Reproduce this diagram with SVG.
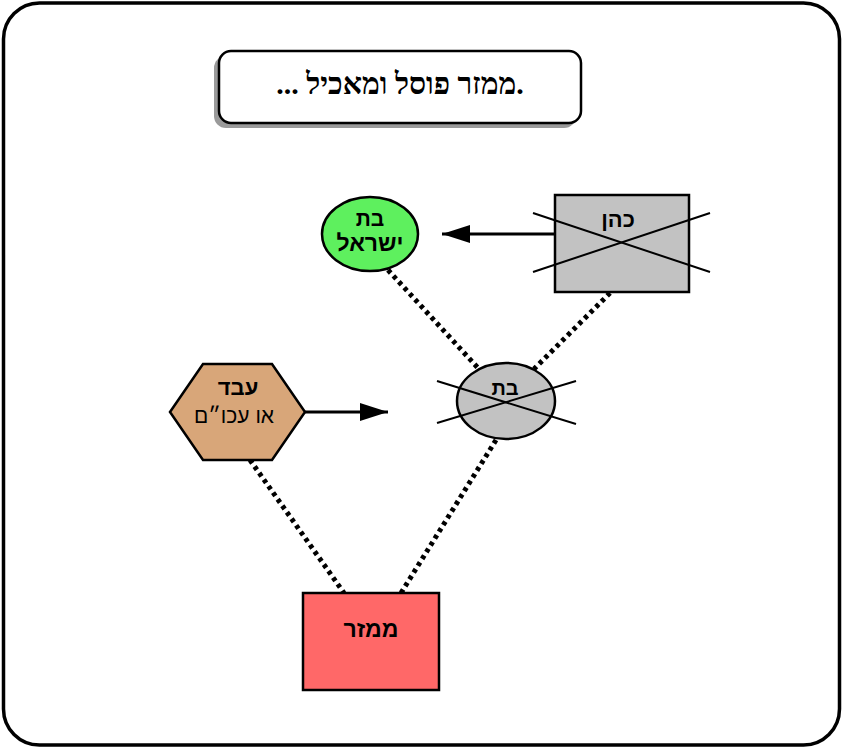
<svg xmlns="http://www.w3.org/2000/svg" width="843" height="749" viewBox="0 0 843 749">
<defs>
<marker id="arr" viewBox="0 0 28 18" refX="28" refY="9" markerWidth="28" markerHeight="18" markerUnits="userSpaceOnUse" orient="auto">
<path d="M0,0 L28,9 L0,18 z" fill="#000"/>
</marker>
</defs>
<style>
.lbl{font-family:"Liberation Sans","DejaVu Sans",sans-serif;font-weight:bold;text-anchor:middle;fill:#000;}
.node{stroke:#000;stroke-width:2.5;}
.dot{stroke:#000;stroke-width:5;stroke-dasharray:4 4;fill:none;}
.solid{stroke:#000;stroke-width:3;fill:none;}
.cross{stroke:#000;stroke-width:2;fill:none;}
</style>
<rect x="0" y="0" width="843" height="749" fill="#fff"/>
<rect x="3.5" y="3" width="836" height="742" rx="36" ry="36" fill="#fff" stroke="#000" stroke-width="3.5"/>

<g id="title">
<rect x="214" y="56" width="362" height="72" rx="12" ry="12" fill="#9a9a9a"/>
<rect x="219" y="51" width="362" height="72" rx="12" ry="12" fill="#fff" stroke="#000" stroke-width="2.5"/>
<text x="400" y="94" font-family="Liberation Serif, DejaVu Serif, serif" font-weight="bold" font-size="30" text-anchor="middle">... ממזר פוסל ומאכיל.</text>
</g>

<g id="connectors">
<line class="dot" x1="388" y1="270" x2="478" y2="368"/>
<line class="dot" x1="610" y1="293" x2="534" y2="369"/>
<line class="dot" x1="250" y1="460" x2="344" y2="593"/>
<line class="dot" x1="496" y1="440" x2="401" y2="593"/>
<line class="solid" x1="555" y1="234" x2="442" y2="234" marker-end="url(#arr)"/>
<line class="solid" x1="305" y1="412" x2="388" y2="412" marker-end="url(#arr)"/>
</g>

<g id="bat-israel">
<ellipse class="node" cx="370" cy="234" rx="48" ry="37" fill="#5ef05e"/>
<text class="lbl" x="370" y="226" font-size="21">בת</text>
<text class="lbl" x="370" y="251" font-size="23">ישראל</text>
</g>

<g id="kohen">
<rect class="node" x="555" y="195" width="134" height="97" fill="#c2c2c2"/>
<line class="cross" x1="533" y1="213" x2="710" y2="272"/>
<line class="cross" x1="533" y1="272" x2="710" y2="213"/>
<text class="lbl" x="618" y="227" font-size="22">כהן</text>
</g>

<g id="bat">
<ellipse class="node" cx="506" cy="401" rx="49" ry="38" fill="#c2c2c2"/>
<line class="cross" x1="437" y1="381" x2="576" y2="424"/>
<line class="cross" x1="437" y1="423" x2="576" y2="381"/>
<text class="lbl" x="505" y="395" font-size="20">בת</text>
</g>

<g id="eved">
<polygon class="node" points="170,412 203,364 272,364 305,412 272,460 203,460" fill="#d8a679"/>
<text class="lbl" x="238" y="395" font-size="22">עבד</text>
<text x="234" y="423" font-family="Liberation Sans, DejaVu Sans, sans-serif" font-size="21" text-anchor="middle">או עכו״ם</text>
</g>

<g id="mamzer">
<rect class="node" x="303" y="593" width="136" height="97" fill="#ff6868"/>
<text class="lbl" x="371" y="637" font-size="23">ממזר</text>
</g>
</svg>
